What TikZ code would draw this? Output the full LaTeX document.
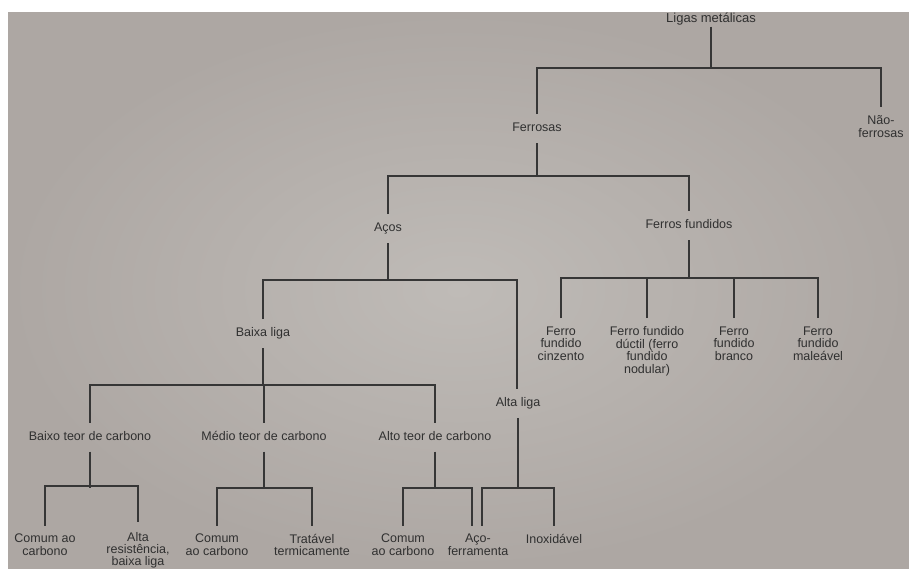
\documentclass[tikz,border=0pt]{standalone}
\usepackage{fontspec}
\setmainfont{Liberation Sans}
\definecolor{bgd}{HTML}{ADA7A3}
\definecolor{bgl}{HTML}{BFBBB7}
\definecolor{txtc}{HTML}{303030}
\definecolor{linec}{HTML}{363636}
\tikzset{
  lbl/.style={anchor=north, inner sep=0pt, outer xsep=0pt, outer ysep=8.5pt,
    align=center, font=\fontsize{12.5}{12.6}\selectfont, text=txtc},
  one/.style={lbl, text height=9pt, text depth=3pt},
  edge/.style={draw=linec, line width=1.6pt},
}
\begin{document}
\begin{tikzpicture}[x=1pt,y=-1pt]
\useasboundingbox (0,0) rectangle (909,568);
\fill[white] (0,0) rectangle (909,568);
\shade[inner color=bgl, outer color=bgd] (8,12) rectangle (909,568);

% bar levels
\coordinate (y1) at (0,68);
\coordinate (y2) at (0,176);
\coordinate (y3) at (0,280);
\coordinate (y4) at (0,278);
\coordinate (y5) at (0,385);
\coordinate (y6) at (0,488);

% nodes (north anchor includes the 8.5pt outer sep)
\node[one, font=\fontsize{13}{13}\selectfont, outer ysep=1pt] (lig) at (711,12.5) {Ligas metálicas};
\node[one] (fer) at (537,114) {Ferrosas};
\node[lbl] (nao) at (881,107) {Não-\\ferrosas};
\node[one] (aco) at (388,214) {Aços};
\node[one] (ff) at (689,211) {Ferros fundidos};
\node[one] (bl) at (263,319) {Baixa liga};
\node[one] (al) at (518,389) {Alta liga};
\node[lbl] (f1) at (561,318) {Ferro\\fundido\\cinzento};
\node[lbl] (f2) at (647,318) {Ferro fundido\\dúctil (ferro\\fundido\\nodular)};
\node[lbl] (f3) at (734,318) {Ferro\\fundido\\branco};
\node[lbl] (f4) at (818,318) {Ferro\\fundido\\maleável};
\node[one] (bt) at (90,422.5) {Baixo teor de carbono};
\node[one] (mt) at (264,422.5) {Médio teor de carbono};
\node[one] (at) at (435,422.5) {Alto teor de carbono};
\node[lbl] (c1) at (45,525.5) {Comum ao\\carbono};
\node[lbl, font=\fontsize{12.5}{12}\selectfont] (c2) at (138,523.5) {Alta\\resistência,\\baixa liga};
\node[lbl] (c3) at (217,525.5) {Comum\\ao carbono};
\node[lbl] (c4) at (312,525.5) {Tratável\\termicamente};
\node[lbl] (c5) at (403,525.5) {Comum\\ao carbono};
\node[lbl] (af) at (478,525.5) {Aço-\\ferramenta};
\node[lbl] (inox) at (554,526) {Inoxidável};

% connectors
\draw[edge] (lig.south) -- (lig.south |- y1);
\draw[edge] (fer.north) |- (nao.north |- y1) -- (nao.north);

\draw[edge] (fer.south) -- (fer.south |- y2);
\draw[edge] (aco.north) |- (ff.north |- y2) -- (ff.north);

\draw[edge] (aco.south) -- (aco.south |- y3);
\draw[edge] (bl.north) |- ([xshift=-1pt]al.north |- y3) -- ([xshift=-1pt]al.north);

\draw[edge] (ff.south) -- (ff.south |- y4);
\draw[edge] (f1.north) |- (f4.north |- y4) -- (f4.north);
\draw[edge] (f2.north) -- (f2.north |- y4);
\draw[edge] (f3.north) -- (f3.north |- y4);

\draw[edge] (bl.south) -- (bl.south |- y5);
\draw[edge] (bt.north) |- (at.north |- y5) -- (at.north);
\draw[edge] (mt.north) -- (mt.north |- y5);

\draw[edge] (bt.south) -- (bt.south |- y6);
\draw[edge] (c1.north) |- ([yshift=2pt]c2.north |- y6) -- ([yshift=2pt]c2.north);

\draw[edge] (mt.south) -- (mt.south |- y6);
\draw[edge] (c3.north) |- (c4.north |- y6) -- (c4.north);

\draw[edge] (at.south) -- (at.south |- y6);
\draw[edge] (c5.north) |- ([xshift=-6pt]af.north |- y6) -- ([xshift=-6pt]af.north);

\draw[edge] (al.south) -- (al.south |- y6);
\draw[edge] ([xshift=4pt]af.north) |- (inox.north |- y6) -- (inox.north);
\end{tikzpicture}
\end{document}
